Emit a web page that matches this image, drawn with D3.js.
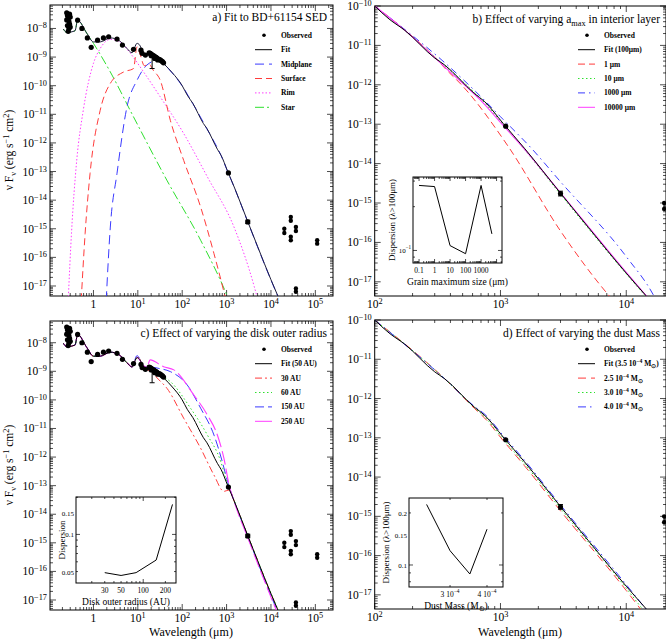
<!DOCTYPE html>
<html><head><meta charset="utf-8">
<script src="https://cdn.jsdelivr.net/npm/d3@7"></script>
<style>
body{margin:0;background:#fff;}
text{font-family:"Liberation Serif",serif;fill:#000;}
</style></head>
<body><svg id="c" width="666" height="639"></svg>
<script>
"use strict";

// SED pieces, [wavelength um, log10 nuFnu]
const fitSed = [[0.21,-8.02],[0.25,-8.14],[0.385,-8.08],[0.44,-7.71],[0.71,-8.17],[1.0,-8.47],[1.42,-8.47],[2.4,-8.33],[3.7,-8.41],[5.7,-8.70],[7.4,-8.85],[9.6,-8.52],[11,-8.58],[13.5,-8.87],[19,-8.95],[30,-9.08],[40,-9.26],[60,-9.55],[100,-10.0],[130,-10.33],[174,-10.62],[300,-11.32],[361,-11.5],[620,-12.22],[750,-12.43],[1050,-12.98],[1550,-13.61],[3000,-14.75],[5000,-15.62],[10000,-16.78],[15000,-17.42]];
const midplane = [[1.94,-17.5],[2.4,-14.94],[3.4,-13.06],[5.7,-10.74],[9.6,-9.81],[16,-9.28],[27,-9.12],[40,-9.27],[60,-9.56],[100,-10.01],[174,-10.63],[361,-11.51],[750,-12.44],[1050,-12.99],[1550,-13.62],[3000,-14.76],[10000,-16.79],[15000,-17.43]];
const surface = [[0.53,-17.5],[0.65,-15.16],[0.84,-13.06],[1.42,-10.86],[2.4,-9.92],[4.8,-9.52],[8,-9.40],[9.6,-8.64],[11.4,-8.93],[14,-9.3],[18,-9.25],[22,-9.45],[32,-9.81],[54,-11.21],[108,-12.61],[260,-14.24],[520,-15.87],[900,-17.3],[1000,-17.6]];
const rim = [[0.27,-17.5],[0.32,-15.16],[0.42,-12.61],[0.59,-10.86],[1.0,-9.22],[1.42,-8.70],[2.4,-8.38],[4.0,-8.47],[6.8,-8.87],[13.5,-9.52],[32,-10.39],[108,-11.67],[370,-13.19],[1470,-14.94],[4200,-17.02],[5100,-17.5]];
const star = [[0.21,-8.02],[0.25,-8.14],[0.385,-8.08],[0.44,-7.71],[0.71,-8.17],[1.0,-8.52],[2.4,-9.52],[8,-11.09],[45,-13.3],[260,-15.40],[1040,-17.36],[1200,-17.6]];

// disk outer radius runs (long-wavelength part)
const r30 = [[19,-9.0],[30,-9.3],[45.6,-9.6],[108,-10.64],[260,-11.69],[520,-12.63],[870,-13.2],[1150,-13.15],[1550,-13.62],[3000,-14.75],[10000,-16.78],[15000,-17.42]];
const r60 = [[19,-8.93],[30,-9.12],[54,-9.36],[154,-10.29],[370,-11.23],[740,-12.16],[1000,-12.85],[1550,-13.6],[3000,-14.74],[10000,-16.76],[15000,-17.4]];
const r150 = [[9.6,-8.45],[11,-8.55],[13.5,-8.85],[19,-8.85],[30,-8.9],[54,-9.01],[130,-9.48],[260,-10.29],[520,-11.23],[800,-12.16],[1050,-12.85],[1550,-13.62],[3000,-14.78],[10000,-16.85],[14500,-17.45]];
const r250 = [[9.6,-8.5],[11,-8.6],[13.5,-8.8],[16,-8.85],[19,-8.6],[38,-8.84],[65,-8.95],[183,-9.83],[370,-10.53],[620,-11.23],[870,-12.04],[1140,-12.98],[1550,-13.65],[3000,-14.82],[10000,-16.9],[14000,-17.45]];

// a_max runs
const amax1 = [[100,-10],[174,-10.61],[300,-11.3],[372,-11.62],[490,-12.0],[1150,-13.56],[3000,-15.71],[7330,-17.36],[8000,-17.5]];
const amax10 = [[100,-10],[174,-10.63],[361,-11.52],[750,-12.46],[1050,-13.01],[1550,-13.64],[3000,-14.78],[10000,-16.8],[15000,-17.45]];
const amax1000 = [[100,-10],[174,-10.6],[361,-11.44],[750,-12.4],[1000,-12.81],[1760,-13.61],[3000,-14.46],[10000,-16.36],[16600,-17.36],[17500,-17.5]];
const amax10000 = [[100,-10],[174,-10.62],[361,-11.55],[750,-12.5],[1050,-13.03],[1550,-13.63],[3000,-14.74],[10000,-16.76],[15000,-17.42]];

// dust mass runs
const mass25 = [[100,-10],[361,-11.5],[620,-12.25],[750,-12.5],[1050,-13.07],[1550,-13.71],[3000,-14.86],[10000,-16.89],[14000,-17.5]];
const mass30 = [[100,-10],[361,-11.5],[620,-12.23],[750,-12.47],[1050,-13.03],[1550,-13.66],[3000,-14.8],[10000,-16.83],[14500,-17.5]];
const mass40 = [[100,-10],[361,-11.5],[620,-12.2],[750,-12.4],[1050,-12.94],[1550,-13.57],[3000,-14.71],[10000,-16.74],[15500,-17.5]];

// observations
const obsDots = [[0.25,-7.45],[0.26,-7.55],[0.27,-7.65],[0.28,-7.75],[0.29,-7.85],[0.3,-7.95],[0.26,-7.9],[0.27,-8.1],[0.28,-8.0],[0.3,-7.6],[0.25,-7.7],[0.29,-7.5],
  [0.44,-7.71],[0.55,-8.0],[0.73,-8.33],[0.89,-8.66],[1.24,-8.41],[1.68,-8.33],[2.2,-8.29],[3.4,-8.37],[4.5,-8.58],[8,-8.73],[11.8,-8.76],[12.5,-8.87],[14.8,-8.93],
  [18,-8.85],[19,-8.87],[20,-8.9],[21,-8.92],[22,-8.95],[23,-8.96],[24,-8.98],[25,-9.0],[26,-9.02],[27,-9.04],[28,-9.06],[30,-9.08],[32,-9.1],[34,-9.13],[36,-9.16],[38,-9.2],[20,-8.95],[24,-9.05],[28,-9.1],
  [1100,-13.05],[3000,-14.76]];
const obsErr = [[21,-8.93,-9.4],[3000,-14.7,-14.82]];
const obsPairs = [[20000,-15.0,-15.15],[28000,-14.59,-14.72],[28000,-15.28,-15.40],[36500,-14.94,-15.08],[110000,-15.40,-15.52],[36500,-17.09,-17.2]];

// inset data
const grainSize = [0.1,1,10,100,1000,5000];
const grainDisp = [0.28,0.275,0.108,0.095,0.28,0.13];
const radiusAU = [30,50,80,150,250];
const radiusDisp = [0.049,0.0465,0.049,0.062,0.175];
const dustMass = [2.5e-4,3.0e-4,3.5e-4,4.0e-4];
const massDisp = [0.224,0.121,0.0887,0.161];

const RED = "#ff3b3b", GREEN = "#2ee02e", BLUE = "#3a3aff", MAG = "#ff3cff";
const svg = d3.select('#c');
let clipN = 0;

function sup(t, base, exp) {
  t.append('tspan').text(base);
  t.append('tspan').attr('dy', -4).attr('font-size', '0.72em').text(exp);
}

function logTicks(dom) {
  let out = [];
  let lo = Math.floor(Math.log10(dom[0])), hi = Math.ceil(Math.log10(dom[1]));
  for (let k = lo; k <= hi; k++) {
    for (let m = 1; m < 10; m++) {
      let v = m * Math.pow(10, k);
      if (v >= dom[0] * 0.9999 && v <= dom[1] * 1.0001) out.push({v: v, major: m === 1, k: k});
    }
  }
  return out;
}

function panel(x0, y0, w, h, xDom, yDom, maj) {
  let x = d3.scaleLog().domain(xDom).range([x0, x0 + w]);
  let y = d3.scaleLog().domain(yDom).range([y0 + h, y0]);
  let g = svg.append('g');
  let id = 'clip' + (clipN++);
  svg.append('clipPath').attr('id', id).append('rect').attr('x', x0).attr('y', y0).attr('width', w).attr('height', h);
  let L = maj || 6;
  for (let t of logTicks(xDom)) {
    let px = x(t.v), len = t.major ? L : L / 2;
    g.append('line').attr('x1', px).attr('x2', px).attr('y1', y0 + h).attr('y2', y0 + h - len).attr('stroke', '#000').attr('stroke-width', 0.7);
    g.append('line').attr('x1', px).attr('x2', px).attr('y1', y0).attr('y2', y0 + len).attr('stroke', '#000').attr('stroke-width', 0.7);
  }
  for (let t of logTicks(yDom)) {
    let py = y(t.v), len = t.major ? L : L / 2;
    g.append('line').attr('x1', x0).attr('x2', x0 + len).attr('y1', py).attr('y2', py).attr('stroke', '#000').attr('stroke-width', 0.7);
    g.append('line').attr('x1', x0 + w).attr('x2', x0 + w - len).attr('y1', py).attr('y2', py).attr('stroke', '#000').attr('stroke-width', 0.7);
  }
  g.append('rect').attr('x', x0).attr('y', y0).attr('width', w).attr('height', h).attr('fill', 'none').attr('stroke', '#000').attr('stroke-width', 1);
  let plot = svg.append('g').attr('clip-path', `url(#${id})`);
  return {x, y, g, plot, x0, y0, w, h};
}

function decadeLabels(p, xDom, yDom) {
  for (let t of logTicks(yDom).filter(t => t.major)) {
    let tx = p.g.append('text').attr('x', p.x0 - 3).attr('y', p.y(t.v) + 4).attr('text-anchor', 'end').attr('font-size', 11.5);
    sup(tx, '10', '\u2212' + Math.abs(t.k));
  }
  for (let t of logTicks(xDom).filter(t => t.major)) {
    let tx = p.g.append('text').attr('x', p.x(t.v)).attr('y', p.y0 + p.h + 12).attr('text-anchor', 'middle').attr('font-size', 11.5);
    if (t.k === 0) tx.text('1'); else sup(tx, '10', String(t.k));
  }
}

function curve(p, data, color, dash, width) {
  let line = d3.line().curve(d3.curveMonotoneX).x(d => p.x(d[0])).y(d => p.y(Math.pow(10, d[1])));
  p.plot.append('path').attr('d', line(data)).attr('fill', 'none').attr('stroke', color)
    .attr('stroke-width', width || 1).attr('stroke-dasharray', dash || null);
}

function observed(p) {
  for (let d of obsDots) p.plot.append('circle').attr('cx', p.x(d[0])).attr('cy', p.y(Math.pow(10, d[1]))).attr('r', 2.6).attr('fill', '#000');
  for (let d of obsErr) {
    let px = p.x(d[0]), a = p.y(Math.pow(10, d[1])), b = p.y(Math.pow(10, d[2]));
    p.plot.append('path').attr('d', `M${px},${a}V${b}M${px - 2.5},${a}h5M${px - 2.5},${b}h5`).attr('stroke', '#000').attr('fill', 'none');
  }
  for (let d of obsPairs) {
    let px = p.x(d[0]), a = p.y(Math.pow(10, d[1])), b = p.y(Math.pow(10, d[2]));
    p.plot.append('line').attr('x1', px).attr('x2', px).attr('y1', a).attr('y2', b).attr('stroke', '#000');
    p.plot.append('circle').attr('cx', px).attr('cy', a).attr('r', 2.2).attr('fill', '#000');
    p.plot.append('circle').attr('cx', px).attr('cy', b).attr('r', 2.2).attr('fill', '#000');
  }
}

function legend(lx, ly, rows) {
  rows.forEach((r, i) => {
    let yy = ly + i * 14.4;
    if (r.dot) svg.append('circle').attr('cx', lx + 9).attr('cy', yy).attr('r', 1.8).attr('fill', '#000');
    else svg.append('line').attr('x1', lx).attr('x2', lx + 17).attr('y1', yy).attr('y2', yy).attr('stroke', r.color)
      .attr('stroke-width', 1).attr('stroke-dasharray', r.dash || null);
    let t = svg.append('text').attr('x', lx + 26).attr('y', yy + 2.5).attr('font-size', 7.5).attr('font-weight', 'bold');
    r.label(t);
  });
}
const plain = s => t => t.text(s);

function title(xr, yy, fn) {
  let t = svg.append('text').attr('x', xr).attr('y', yy).attr('text-anchor', 'end').attr('font-size', 11.5);
  fn(t);
}

function ylab(cx, cy) {
  let t = svg.append('text').attr('transform', `translate(${cx},${cy}) rotate(-90)`).attr('text-anchor', 'middle').attr('font-size', 11.5);
  t.append('tspan').text('\u03bd F');
  t.append('tspan').attr('dy', 3).attr('font-size', '0.72em').text('\u03bd');
  t.append('tspan').attr('dy', -3).text(' (erg s');
  t.append('tspan').attr('dy', -4).attr('font-size', '0.72em').text('\u22121');
  t.append('tspan').attr('dy', 4).text(' cm');
  t.append('tspan').attr('dy', -4).attr('font-size', '0.72em').text('2');
  t.append('tspan').attr('dy', 4).text(')');
}

function inset(x0, y0, w, h, xDom, yDom, xs, ys, xLabels, yLabels, xTitle, yTitle) {
  let p = panel(x0, y0, w, h, xDom, yDom, 4);
  svg.append('rect').attr('x', x0).attr('y', y0).attr('width', w).attr('height', h).attr('fill', '#fff').lower();
  let line = d3.line().x((d, i) => p.x(xs[i])).y((d, i) => p.y(ys[i]));
  p.plot.append('path').attr('d', line(xs)).attr('fill', 'none').attr('stroke', '#000').attr('stroke-width', 1);
  for (let l of xLabels) {
    let t = p.g.append('text').attr('x', p.x(l.v)).attr('y', y0 + h + 10).attr('text-anchor', 'middle').attr('font-size', 7.5);
    l.f(t);
  }
  for (let l of yLabels) {
    let t = p.g.append('text').attr('x', x0 - 2).attr('y', p.y(l.v) + 3).attr('text-anchor', 'end').attr('font-size', 7);
    l.f(t);
  }
  let tx = svg.append('text').attr('x', x0 + w / 2).attr('y', y0 + h + 22).attr('text-anchor', 'middle').attr('font-size', 9.5);
  xTitle(tx);
  let ty = svg.append('text').attr('transform', `translate(${yTitle.x},${y0 + h / 2}) rotate(-90)`).attr('text-anchor', 'middle').attr('font-size', 9);
  yTitle.f(ty);
}

// ---- panel a
const fullX = [0.105, 2.5e5];
const aY = [Math.pow(10, -17.35), Math.pow(10, -7.18)];
let pa = panel(50, 5, 283, 291, fullX, aY);
decadeLabels(pa, fullX, aY);
curve(pa, star, GREEN, '9,3,2,3');
curve(pa, rim, MAG, '1.5,2');
curve(pa, surface, RED, '7,4');
curve(pa, midplane, BLUE, '9,5');
curve(pa, fitSed, '#1c1c3a', null, 1);
observed(pa);
title(327, 21, t => t.text('a) Fit to BD+61154 SED'));
legend(255, 35.3, [
  {dot: true, label: plain('Observed')},
  {color: '#000', label: plain('Fit')},
  {color: BLUE, dash: '9,5', label: plain('Midplane')},
  {color: RED, dash: '7,4', label: plain('Surface')},
  {color: MAG, dash: '1.5,2', label: plain('Rim')},
  {color: GREEN, dash: '9,3,2,3', label: plain('Star')}
]);
ylab(13, 150);

// ---- panel b
const longX = [100, 2.07e4];
const longY = [Math.pow(10, -17.36), 1e-10];
let pb = panel(374.7, 6, 291.3, 290, longX, longY);
decadeLabels(pb, longX, longY);
const longFit = fitSed.filter(d => d[0] >= 100);
curve(pb, amax1, RED, '7,4');
curve(pb, amax10, GREEN, '1.5,2.5');
curve(pb, amax1000, BLUE, '7,4,1.5,4');
curve(pb, amax10000, MAG, null, 1.1);
curve(pb, longFit, '#000', null, 1);
observed(pb);
title(660, 23, t => {
  t.append('tspan').text('b) Effect of varying a');
  t.append('tspan').attr('dy', 3).attr('font-size', '0.72em').text('max');
  t.append('tspan').attr('dy', -3).text(' in interior layer');
});
legend(578, 35.3, [
  {dot: true, label: plain('Observed')},
  {color: '#000', label: plain('Fit (100\u03bcm)')},
  {color: RED, dash: '7,4', label: plain('1 \u03bcm')},
  {color: GREEN, dash: '1.5,2.5', label: plain('10 \u03bcm')},
  {color: BLUE, dash: '7,4,1.5,4', label: plain('1000 \u03bcm')},
  {color: MAG, label: plain('10000 \u03bcm')}
]);
inset(413, 177, 89, 86, [Math.pow(10, -1.39), Math.pow(10, 4.35)], [0.082, 0.32], grainSize, grainDisp,
  [0.1, 1, 10, 100, 1000].map(v => ({v: v, f: t => t.text(String(v))})),
  [{v: 0.1, f: t => sup(t, '10', '\u22121')}],
  t => t.text('Grain maximum size (\u03bcm)'),
  {x: 395, f: t => t.text('Dispersion (\u03bb>100\u03bcm)')});

// ---- panel c
const cY = [Math.pow(10, -17.35), Math.pow(10, -7.24)];
let pc = panel(50, 321, 283, 289, fullX, cY);
decadeLabels(pc, fullX, cY);
const nearFit = fitSed.filter(d => d[0] < 19);
curve(pc, nearFit.concat(r30), RED, '7,3,2,3');
curve(pc, nearFit.filter(d => d[0] < 9).concat(r150), BLUE, '9,4');
curve(pc, nearFit.concat(r60), GREEN, '1.5,2.5');
curve(pc, nearFit.filter(d => d[0] < 9).concat(r250), MAG, '14,4', 1.1);
curve(pc, fitSed, '#000', null, 1);
observed(pc);
title(327, 337, t => t.text('c) Effect of varying the disk outer radius'));
legend(255, 349.3, [
  {dot: true, label: plain('Observed')},
  {color: '#000', label: plain('Fit (50 AU)')},
  {color: RED, dash: '7,3,2,3', label: plain('30 AU')},
  {color: GREEN, dash: '1.5,2.5', label: plain('60 AU')},
  {color: BLUE, dash: '9,4', label: plain('150 AU')},
  {color: MAG, label: plain('250 AU')}
]);
ylab(13, 465);
inset(76, 497, 100, 86, [12.2, 279], [0.0404, 0.201], radiusAU, radiusDisp,
  [30, 50, 100, 200].map(v => ({v: v, f: t => t.text(String(v))})),
  [0.05, 0.1, 0.15].map(v => ({v: v, f: t => t.text(String(v))})),
  t => t.text('Disk outer radius (AU)'),
  {x: 65, f: t => t.text('Dispersion')});
svg.append('text').attr('x', 191).attr('y', 636).attr('text-anchor', 'middle').attr('font-size', 12).text('Wavelength (\u03bcm)');

// ---- panel d
let pd = panel(374.7, 320, 291.3, 289, longX, longY);
decadeLabels(pd, longX, longY);
curve(pd, mass25, RED, '8,5');
curve(pd, mass30, GREEN, '1.5,2.5');
curve(pd, mass40, BLUE, '8,4,1.5,4');
curve(pd, longFit, '#000', null, 1);
observed(pd);
title(660, 337, t => t.text('d) Effect of varying the dust Mass'));
const msun = (t, pre) => {
  t.append('tspan').text(pre);
  t.append('tspan').attr('dy', -3).attr('font-size', '0.75em').text('\u22124');
  t.append('tspan').attr('dy', 3).text(' M');
  t.append('tspan').attr('dy', 2).attr('font-size', '0.75em').text('\u2299');
};
legend(578, 349.3, [
  {dot: true, label: plain('Observed')},
  {color: '#000', label: t => { msun(t, 'Fit (3.5 10'); t.append('tspan').attr('dy', -2).text(')'); }},
  {color: RED, dash: '8,5', label: t => msun(t, '2.5 10')},
  {color: GREEN, dash: '1.5,2.5', label: t => msun(t, '3.0 10')},
  {color: BLUE, dash: '8,4,1.5,4', label: t => msun(t, '4.0 10')}
]);
inset(409, 498, 94, 89, [2.18e-4, 4.53e-4], [0.0746, 0.244], dustMass, massDisp,
  [3e-4, 4e-4].map(v => ({v: v, f: t => sup(t, (v * 1e4).toFixed(0) + ' 10', '\u22124')})),
  [0.1, 0.15, 0.2].map(v => ({v: v, f: t => t.text(String(v))})),
  t => { t.append('tspan').text('Dust Mass (M'); t.append('tspan').attr('dy', 2).attr('font-size', '0.75em').text('\u2299'); t.append('tspan').attr('dy', -2).text(')'); },
  {x: 389, f: t => t.text('Dispersion (\u03bb>100\u03bcm)')});
svg.append('text').attr('x', 520).attr('y', 636).attr('text-anchor', 'middle').attr('font-size', 12).text('Wavelength (\u03bcm)');
</script></body></html>
